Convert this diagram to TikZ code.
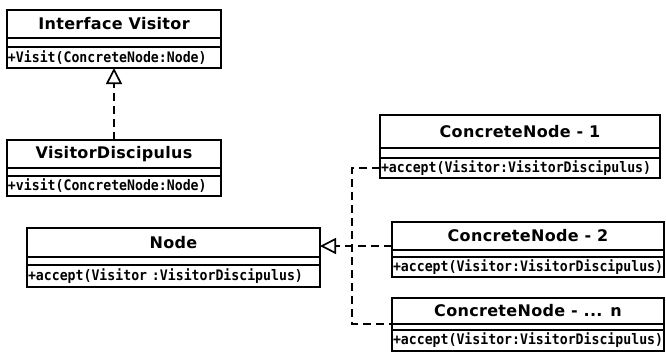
\documentclass[tikz,border=0pt]{standalone}
\usepackage{fontspec}
\newfontfamily\classtitlefont[LetterSpace=2]{DejaVu Sans}
\newfontfamily\classopfont[FakeStretch=0.91]{DejaVu Sans Mono}
\usetikzlibrary{arrows.meta}
\tikzset{
  box/.style={draw, line width=1.7pt, inner sep=0pt, outer sep=0pt},
  ctitle/.style={box, font=\classtitlefont\bfseries\fontsize{16}{18}\selectfont},
  cgap/.style={box},
  cmeth/.style={box, font=\classopfont\bfseries\fontsize{14.5}{16}\selectfont, align=left, inner xsep=1pt},
  realize/.style={line width=1.7pt, dash pattern=on 8pt off 5pt},
  gen/.style={realize, line join=miter, -{Triangle[open, length=16pt, width=16pt]}}
}
% UML class: name, x, y, width, title height, attribute height, operation height, title, operation
\newcommand\umlclass[9]{%
  \pgfmathsetmacro\umltw{#4-2}%
  \node[ctitle, minimum width=#4, minimum height=#5, anchor=north west] (#1-t) at (#2,#3) {#8};
  \node[cgap, minimum width=#4, minimum height=#6, anchor=north] (#1-g) at (#1-t.south) {};
  \node[cmeth, text width=\umltw, minimum height=#7, anchor=north] (#1-m) at (#1-g.south) {#9};
}
\begin{document}
\begin{tikzpicture}[x=1pt, y=-1pt]
\useasboundingbox (0,0) rectangle (666,357);
\umlclass{iv}{7}{10}{214}{28}{9}{21}{Interface Visitor}{+Visit(ConcreteNode:Node)}
\umlclass{vd}{7}{140}{214}{28}{8}{20}{VisitorDiscipulus}{+visit(ConcreteNode:Node)}
\umlclass{nd}{27}{228}{293}{29}{8}{22}{Node}{+accept(Visitor :VisitorDiscipulus)}
\umlclass{c1}{380}{115}{280}{33}{10}{20}{ConcreteNode - 1}{+accept(Visitor:VisitorDiscipulus)}
\umlclass{c2}{392}{222}{272}{28}{7}{20}{ConcreteNode - 2}{+accept(Visitor:VisitorDiscipulus)}
\umlclass{cn}{392}{298}{272}{26}{6}{21}{ConcreteNode - ... n}{+accept(Visitor:VisitorDiscipulus)}
% connectors
\coordinate (bus) at (352,0);
\coordinate (j2) at (352,246);
\draw[gen] (vd-t.north) -- (iv-m.south);
\draw[realize] (c1-m.west) -| (bus |- cn-t.south west) -- (cn-t.south west);
\draw[gen] (c2-t.west |- j2) -- (nd-t.east |- j2);
\end{tikzpicture}
\end{document}
